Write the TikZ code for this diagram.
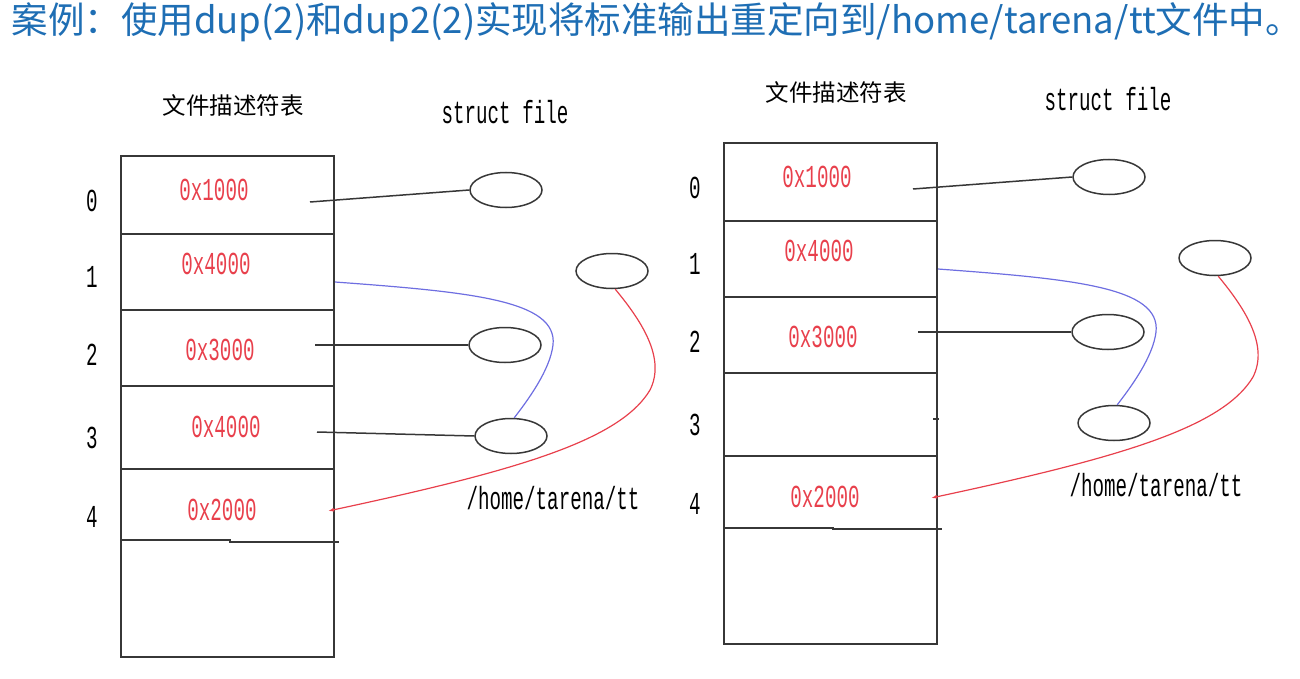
\documentclass[tikz,border=0pt]{standalone}
\usepackage{fontspec}
\newfontfamily\cjk{Noto Sans CJK SC}
\newfontfamily\codefont[FakeStretch=0.6]{Liberation Mono}
\usetikzlibrary{arrows.meta,shapes.geometric}
\definecolor{titleblue}{RGB}{30,110,180}
\definecolor{addrred}{RGB}{232,64,76}
\definecolor{dupblue}{RGB}{110,110,225}
\definecolor{linegray}{RGB}{55,55,55}
\tikzset{
	fdtable/.style={draw=linegray, line width=1.5pt},
	fileobj/.style={ellipse, draw=linegray, line width=1.5pt,
			minimum width=72pt, minimum height=35pt, inner sep=0pt},
	addr/.style={text=addrred, font=\codefont\fontsize{32}{32}\selectfont},
	code/.style={font=\codefont\fontsize{32}{32}\selectfont},
	heading/.style={font=\cjk\fontsize{23.5}{23.5}\selectfont},
	link/.style={draw=linegray, line width=1.5pt},
	dup/.style={draw=dupblue, line width=1.2pt},
	redirect/.style={draw=addrred, line width=1.2pt, -{Latex[length=6pt,width=4pt]}}
}

\begin{document}
\begin{tikzpicture}[x=1pt, y=-1pt]
	\useasboundingbox (0,0) rectangle (1300,679);
	% Title
	\node[anchor=west, text=titleblue, font=\cjk\fontsize{36.5}{36.5}\selectfont] (title) at (8,22)
		{案例：使用dup(2)和dup2(2)实现将标准输出重定向到/home/tarena/tt文件中。};

	% Left panel: after dup(2)
	\begin{scope}[name prefix=L-]
		% Draw the table
		\draw[fdtable] (121,156) rectangle (334,657);
		\foreach \y in {234,310,386,469}
			\draw[fdtable] (121,\y) -- (334,\y);
		\draw[fdtable] (121,540) -- (230,540) -- (230,542) -- (339,542);
		\node[heading] (head) at (233,105) {文件描述符表};
		\node[code] (struct) at (505,112) {struct file};
		% Draw the indices and the addresses
		\foreach \i/\y in {0/201,1/277,2/355,3/438,4/517}
			\node[code] (fd\i) at (92,\y) {\i};
		\node[addr] (a0) at (214,190) {0x1000};
		\node[addr] (a1) at (216,264) {0x4000};
		\node[addr] (a2) at (220,350) {0x3000};
		\node[addr] (a3) at (226,427) {0x4000};
		\node[addr] (a4) at (222,510) {0x2000};
		% Draw the file objects
		\node[fileobj] (f0) at (506,190) {};
		\node[fileobj] (fx) at (612,271) {};
		\node[fileobj] (f2) at (505,345) {};
		\node[fileobj] (f3) at (511,436) {};
		\node[code] (path) at (553,498) {/home/tarena/tt};
		% Draw the pointers
		\coordinate (p0) at (310,202);
		\coordinate (p1) at (335,282);
		\coordinate (p2) at (315,345);
		\coordinate (p3) at (317,432);
		\coordinate (p4) at (328,511);
		\draw[link] (p0) -- (f0.west);
		\draw[link] (p2) -- (f2.west);
		\draw[link] (p3) -- (f3.west);
		\draw[dup] (p1) .. controls (470,292) and (558,300) .. (553,345)
			.. controls (550,370) and (528,400) .. (f3.80);
		\draw[redirect] (fx.-80) .. controls (645,325) and (665,360) .. (650,390)
			.. controls (620,440) and (520,470) .. (p4);
	\end{scope}

	% Right panel: after dup2(2)
	\begin{scope}[name prefix=R-, shift={(603,-13)}]
		% Draw the table
		\draw[fdtable] (121,156) rectangle (334,657);
		\foreach \y in {234,310,386,469}
			\draw[fdtable] (121,\y) -- (334,\y);
		\draw[fdtable] (121,541) -- (230,541) -- (230,542) -- (339,542);
		\node[heading] (head) at (233,105) {文件描述符表};
		\node[code] (struct) at (505,112) {struct file};
		% Draw the indices and the addresses
		\foreach \i/\y in {0/201,1/277,2/355,3/438,4/517}
			\node[code] (fd\i) at (92,\y) {\i};
		\node[addr] (a0) at (214,190) {0x1000};
		\node[addr] (a1) at (216,264) {0x4000};
		\node[addr] (a2) at (220,350) {0x3000};
		\node[addr] (a4) at (222,510) {0x2000};
		% Draw the file objects
		\node[fileobj] (f0) at (506,190) {};
		\node[fileobj] (fx) at (612,271) {};
		\node[fileobj] (f2) at (505,345) {};
		\node[fileobj] (f3) at (511,436) {};
		\node[code] (path) at (553,498) {/home/tarena/tt};
		% Draw the pointers
		\coordinate (p0) at (310,202);
		\coordinate (p1) at (335,282);
		\coordinate (p2) at (315,345);
		\coordinate (p3) at (330,432);
		\coordinate (p3e) at (336,432);
		\coordinate (p4) at (328,511);
		\draw[link] (p0) -- (f0.west);
		\draw[link] (p2) -- (f2.west);
		\draw[link] (p3) -- (p3e);
		\draw[dup] (p1) .. controls (470,292) and (558,300) .. (553,345)
			.. controls (550,370) and (528,400) .. (f3.80);
		\draw[redirect] (fx.-80) .. controls (645,325) and (665,360) .. (650,390)
			.. controls (620,440) and (520,470) .. (p4);
	\end{scope}
\end{tikzpicture}
\end{document}
